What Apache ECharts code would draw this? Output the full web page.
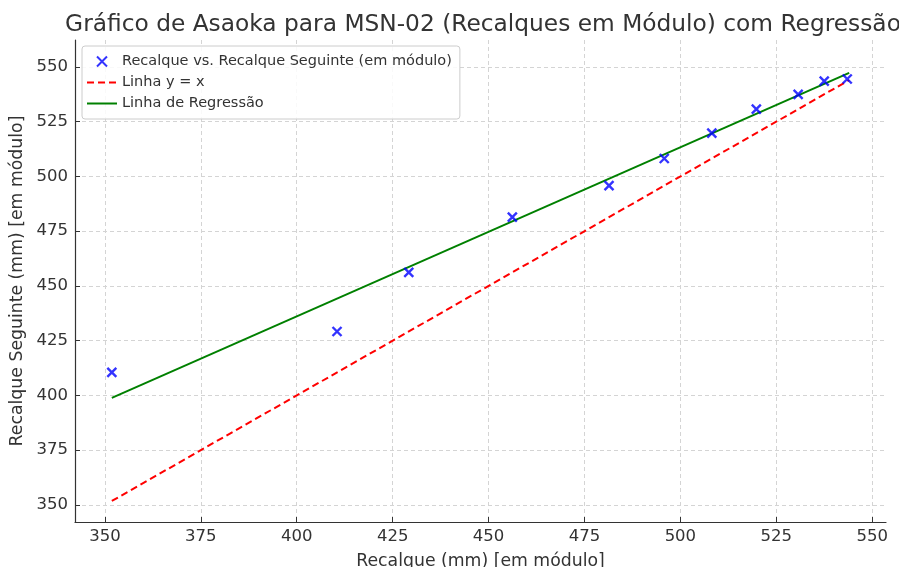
<!DOCTYPE html>
<html><head><meta charset="utf-8">
<script src="https://cdn.jsdelivr.net/npm/echarts@6/dist/echarts.min.js"></script>
<style>html,body{margin:0;padding:0;background:#fff}#c{width:899px;height:567px}</style>
</head><body><div id="c"></div>
<script>
const titleText = 'Gráfico de Asaoka para MSN-02 (Recalques em Módulo) com Regressão';
const xName = 'Recalque (mm) [em módulo]';
const yName = 'Recalque Seguinte (mm) [em módulo]';
const recalque = [351.8, 410.5, 429.2, 456.2, 481.4, 495.8, 508.2, 519.8, 530.7, 537.5, 543.5];
const recalqueSeguinte = [410.5, 429.2, 456.2, 481.4, 495.8, 508.2, 519.8, 530.7, 537.5, 543.5, 544.5];
const identityX = [351.8, 544.0];
const identityY = [351.8, 544.0];
const regressionX = [351.8, 544.0];
const regressionY = [398.9, 547.3];
const tickValues = [350, 375, 400, 425, 450, 475, 500, 525, 550];
const seriesNames = ['Recalque vs. Recalque Seguinte (em módulo)', 'Linha y = x', 'Linha de Regressão'];

const font = 'DejaVu Sans';
const chart = echarts.init(document.getElementById('c'));
const axisCommon = {
  type: 'value',
  nameLocation: 'middle',
  nameTextStyle: {fontFamily: font, fontSize: 17.3, color: '#333'},
  axisLine: {show: true, onZero: false, lineStyle: {color: '#333', width: 1.2}},
  axisTick: {show: true, customValues: tickValues, length: 5, inside: true, lineStyle: {color: '#333'}},
  axisLabel: {customValues: tickValues, fontFamily: font, fontSize: 16.5, color: '#333', formatter: v => String(Math.round(v))},
  splitLine: {show: true, lineStyle: {color: '#d4d4d4', type: [4, 3], width: 1}}
};
chart.setOption({
  animation: false,
  title: {text: titleText, left: 478, textAlign: 'center', top: 8, textStyle: {fontFamily: font, fontSize: 23.3, fontWeight: 'normal', color: '#333'}},
  grid: {left: 75, right: 13, top: 40, bottom: 45, containLabel: false, outerBoundsMode: 'none'},
  legend: {
    left: 82, top: 46, orient: 'vertical', itemGap: 6, itemWidth: 30, itemHeight: 10,
    padding: [8, 8, 8, 4], borderColor: '#ccc', borderWidth: 1, borderRadius: 3, backgroundColor: 'rgba(255,255,255,0.85)',
    textStyle: {fontFamily: font, fontSize: 14.5, color: '#333'},
    data: [
      {name: seriesNames[0]},
      {name: seriesNames[1], itemStyle: {opacity: 0}},
      {name: seriesNames[2], itemStyle: {opacity: 0}}
    ]
  },
  xAxis: Object.assign({}, axisCommon, {min: 342.2, max: 553.6, name: xName, nameGap: 31,
    axisLabel: Object.assign({}, axisCommon.axisLabel, {margin: 6})}),
  yAxis: Object.assign({}, axisCommon, {min: 342.2, max: 562.3, name: yName, nameGap: 46,
    axisLabel: Object.assign({}, axisCommon.axisLabel, {margin: 7})}),
  series: [
    {name: seriesNames[0], type: 'scatter', z: 5,
     symbol: 'path://M0,0L10,10M10,0L0,10', symbolSize: 9,
     itemStyle: {color: '#0000ff', borderColor: '#0000ff', borderWidth: 2.4},
     data: recalque.map((x, i) => [x, recalqueSeguinte[i]])},
    {name: seriesNames[1], type: 'line', showSymbol: false, symbol: 'none', z: 3,
     lineStyle: {color: '#ff0000', width: 2, type: [7, 4]}, itemStyle: {color: '#ff0000'},
     data: identityX.map((x, i) => [x, identityY[i]])},
    {name: seriesNames[2], type: 'line', showSymbol: false, symbol: 'none', z: 4,
     lineStyle: {color: '#008000', width: 2}, itemStyle: {color: '#008000'},
     data: regressionX.map((x, i) => [x, regressionY[i]])}
  ]
});
</script></body></html>
